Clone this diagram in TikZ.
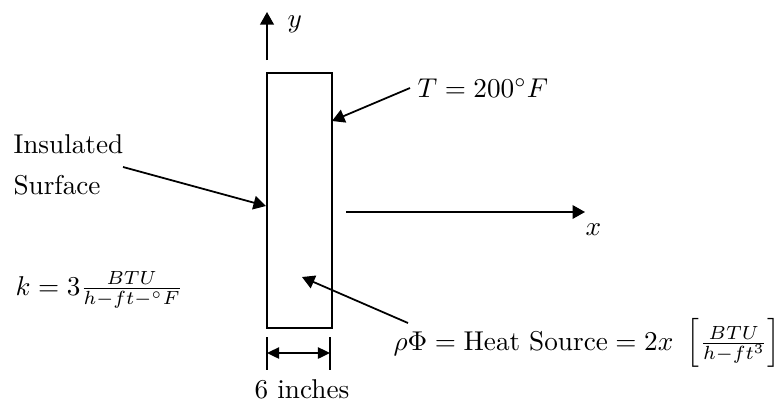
\documentclass[tikz,border=0pt]{standalone}
\usetikzlibrary{arrows.meta}
\begin{document}
\begin{tikzpicture}[x=0.3676pt,y=-0.3676pt,
  tip/.style={-{Triangle[length=4.6pt,width=5pt]}, line width=0.65pt},
  dimtip/.style={{Triangle[length=4.5pt,width=4.2pt]}-{Triangle[length=4.5pt,width=4.2pt]}, line width=0.65pt},
  tick/.style={line width=0.5pt},
  slabbox/.style={draw, line width=0.8pt, inner sep=0pt, minimum width=23.9pt, minimum height=93.7pt},
  lbl/.style={inner sep=0pt, anchor=base west}]
\useasboundingbox (0,0) rectangle (778,403);
% slab
\node[slabbox, anchor=north west] (slab) at (266,72) {};
% labels
\node[lbl] (ylab) at (287,27) {$y$};
\node[lbl] (xlab) at (585,235) {$x$};
\node[lbl] (tlab) at (417,97) {$T = 200^\circ F$};
\node[lbl] (ins1) at (13,153) {Insulated};
\node[lbl] (ins2) at (13,194) {Surface};
\node[lbl] (klab) at (15,295) {$k = 3\frac{BTU}{h-ft-{}^\circ F}$};
\node[lbl] (src) at (393,350) {$\rho\Phi = \mbox{Heat Source} = 2x\ \left[\frac{BTU}{h-ft^3}\right]$};
\node[inner sep=0pt, anchor=base] (dim) at (302,398) {6 inches};
% coordinates
\coordinate (y0) at (267,60);
\coordinate (y1) at (267,12);
\coordinate (x0) at (346,212);
\coordinate (x1) at (585,212);
\coordinate (t0) at (410,88);
\coordinate (t1) at (332,121);
\coordinate (i0) at (123,167);
\coordinate (i1) at (266,206);
\coordinate (s0) at (408,323);
\coordinate (s1) at (302,277);
\coordinate (dl0) at (267,337);
\coordinate (dl1) at (267,370);
\coordinate (dr0) at (330,337);
\coordinate (dr1) at (330,370);
\coordinate (da) at (267,353);
\coordinate (db) at (330,353);
% arrows
\draw[tip] (y0) -- (y1);
\draw[tip] (x0) -- (x1);
\draw[tip] (t0) -- (t1);
\draw[tip] (i0) -- (i1);
\draw[tip] (s0) -- (s1);
\draw[tick] (dl0) -- (dl1);
\draw[tick] (dr0) -- (dr1);
\draw[dimtip] (da) -- (db);
\end{tikzpicture}
\end{document}
